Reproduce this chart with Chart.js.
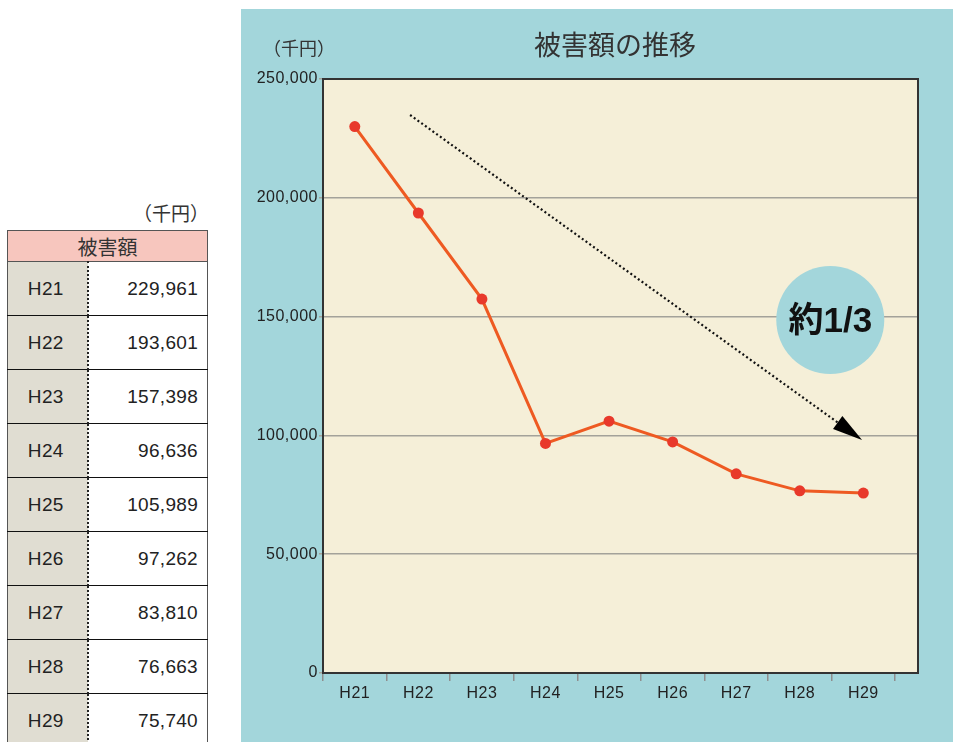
<!DOCTYPE html>
<html><head><meta charset="utf-8">
<script src="https://cdn.jsdelivr.net/npm/chart.js@4/dist/chart.umd.min.js"></script>
<style>
html,body{margin:0;padding:0;background:#fff;width:953px;height:742px;overflow:hidden;position:relative;font-family:"Liberation Sans",Arial,sans-serif;}
#panel{position:absolute;left:241px;top:9px;width:712px;height:733px;background:#a3d6db;}
#panel canvas{position:absolute;left:0;top:0;}
#tunit{position:absolute;left:100px;top:200px;width:109px;text-align:right;font:19px "Noto Sans CJK JP",sans-serif;color:#333;line-height:26px;}
#tbl{position:absolute;left:7px;top:230px;width:200px;border-collapse:collapse;table-layout:fixed;}
#tbl th{height:30px;padding:0;background:#f7c6be;border:1px solid #555;font:normal 20px "Noto Sans CJK JP",sans-serif;color:#333;}
#tbl td{height:53px;padding:0;border-top:1px solid #111;border-bottom:1px solid #111;font-size:19px;color:#222;letter-spacing:0.3px;}
#tbl td.k{background:#e0ddd2;text-align:center;border-left:1.5px solid #555;border-right:2px dotted #222;padding-right:3px;}
#tbl td.v{background:#fff;text-align:right;padding-right:9px;border-right:1.5px solid #555;}
</style>
</head><body>
<div id="tunit"></div>
<table id="tbl"><colgroup><col style="width:80px"><col style="width:120px"></colgroup><thead><tr><th colspan="2" id="thead"></th></tr></thead><tbody id="tbody"></tbody></table>
<div id="panel"><canvas id="c" width="712" height="733"></canvas></div>
<script>
// ---- data ----
const categories = ['H21','H22','H23','H24','H25','H26','H27','H28','H29'];
const damage = [229961, 193601, 157398, 96636, 105989, 97262, 83810, 76663, 75740];
const yTicks = [0, 50000, 100000, 150000, 200000, 250000];
const chartTitle = '被害額の推移';
const unitLabel = '（千円）';
const tableHeader = '被害額';
const arrowFrom = [0.87, 234850];
const arrowTo = [7.98, 98060];
const badgeAt = [7.48, 148570];
const badgeText = '約1/3';

// ---- table ----
document.getElementById('tunit').textContent = unitLabel;
document.getElementById('thead').textContent = tableHeader;
const tb = document.getElementById('tbody');
categories.forEach((c, i) => {
  const tr = document.createElement('tr');
  const a = document.createElement('td'); a.className = 'k'; a.textContent = c;
  const b = document.createElement('td'); b.className = 'v'; b.textContent = damage[i].toLocaleString('en-US');
  tr.appendChild(a); tr.appendChild(b); tb.appendChild(tr);
});

// ---- chart ----
const decor = {
  id: 'decor',
  beforeDraw(chart) {
    const {ctx, chartArea: a} = chart;
    ctx.save();
    ctx.fillStyle = '#f5efd8';
    ctx.fillRect(a.left, a.top, a.right - a.left, a.bottom - a.top);
    ctx.restore();
    try { ctx.letterSpacing = '0.5px'; } catch (e) {}
  },
  beforeDatasetsDraw(chart) {
    const {ctx, chartArea: a, scales: {x, y}} = chart;
    try { ctx.letterSpacing = '0px'; } catch (e) {}
    ctx.save();
    ctx.strokeStyle = '#333';
    ctx.lineWidth = 2;
    ctx.strokeRect(a.left, a.top, a.right - a.left, a.bottom - a.top);
    const x0 = x.getPixelForValue(arrowFrom[0]), y0 = y.getPixelForValue(arrowFrom[1]);
    const x1 = x.getPixelForValue(arrowTo[0]), y1 = y.getPixelForValue(arrowTo[1]);
    const ang = Math.atan2(y1 - y0, x1 - x0);
    const hl = 30, hw = 8;
    const bx = x1 - hl * Math.cos(ang), by = y1 - hl * Math.sin(ang);
    ctx.setLineDash([2, 2.6]);
    ctx.lineWidth = 2.2;
    ctx.strokeStyle = '#111';
    ctx.beginPath(); ctx.moveTo(x0, y0); ctx.lineTo(bx, by); ctx.stroke();
    ctx.setLineDash([]);
    ctx.fillStyle = '#000';
    ctx.beginPath();
    ctx.moveTo(x1, y1);
    ctx.lineTo(bx + hw * Math.sin(ang), by - hw * Math.cos(ang));
    ctx.lineTo(bx - hw * Math.sin(ang), by + hw * Math.cos(ang));
    ctx.closePath(); ctx.fill();
    const cx = x.getPixelForValue(badgeAt[0]), cy = y.getPixelForValue(badgeAt[1]);
    ctx.fillStyle = '#a3d6db';
    ctx.beginPath(); ctx.arc(cx, cy, 54, 0, Math.PI * 2); ctx.fill();
    ctx.fillStyle = '#111';
    ctx.font = 'bold 35px "Liberation Sans", "Noto Sans CJK JP", sans-serif';
    ctx.textAlign = 'center'; ctx.textBaseline = 'middle';
    ctx.fillText(badgeText, cx, cy + 2);
    ctx.restore();
  },
  afterDraw(chart) {
    const ctx = chart.ctx;
    ctx.save();
    try { ctx.letterSpacing = '0px'; } catch (e) {}
    ctx.fillStyle = '#333';
    ctx.textBaseline = 'middle';
    ctx.textAlign = 'center';
    ctx.font = '27px "Noto Sans CJK JP", sans-serif';
    ctx.fillText(chartTitle, 374, 36);
    ctx.textAlign = 'left';
    ctx.font = '18px "Noto Sans CJK JP", sans-serif';
    ctx.fillText(unitLabel, 22, 39);
    ctx.restore();
  }
};

new Chart(document.getElementById('c'), {
  type: 'line',
  data: {
    datasets: [{
      data: damage.map((v, i) => ({x: i, y: v})),
      borderColor: '#ee5a22',
      borderWidth: 3,
      pointRadius: 5.5,
      pointHoverRadius: 5.5,
      pointBackgroundColor: '#e8392b',
      pointBorderWidth: 0,
      tension: 0
    }]
  },
  options: {
    responsive: false,
    animation: false,
    devicePixelRatio: 1,
    events: [],
    layout: {padding: {left: 0, right: 35, top: 70, bottom: 0}},
    plugins: {legend: {display: false}, tooltip: {enabled: false}, title: {display: false}},
    scales: {
      x: {
        type: 'linear', min: -0.5, max: 8.86,
        afterBuildTicks: s => { s.ticks = categories.map((c, i) => ({value: i})); },
        afterFit: s => { s.height = 69; },
        ticks: {
          callback: v => categories[v] ?? '',
          color: '#222', font: {family: '"Liberation Sans", Arial, sans-serif', size: 16},
          padding: 3, maxRotation: 0, autoSkip: false
        },
        grid: {offset: true, drawOnChartArea: false, tickLength: 8, color: '#8e8e8e', lineWidth: 1.5},
        border: {display: false}
      },
      y: {
        min: 0, max: 250000,
        afterBuildTicks: s => { s.ticks = yTicks.map(v => ({value: v})); },
        afterFit: s => { s.width = 82; },
        ticks: {
          callback: v => v.toLocaleString('en-US'),
          color: '#222', font: {family: '"Liberation Sans", Arial, sans-serif', size: 16},
          padding: 1
        },
        grid: {color: '#a3a29a', lineWidth: 1.5, tickLength: 4},
        border: {display: false}
      }
    }
  },
  plugins: [decor]
});
</script>
</body></html>
